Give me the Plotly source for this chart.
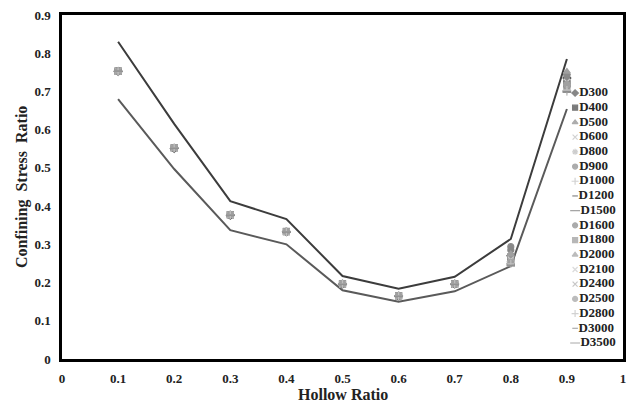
import plotly.graph_objects as go

hollow = [0.1, 0.2, 0.3, 0.4, 0.5, 0.6, 0.7, 0.8, 0.9]
upper_bound = [0.83, 0.615, 0.413, 0.366, 0.217, 0.184, 0.215, 0.314, 0.785]
lower_bound = [0.68, 0.497, 0.337, 0.300, 0.180, 0.150, 0.177, 0.243, 0.654]

series_names = ["D300", "D400", "D500", "D600", "D800", "D900", "D1000", "D1200", "D1500",
                "D1600", "D1800", "D2000", "D2100", "D2400", "D2500", "D2800", "D3000", "D3500"]

D300 = [0.752, 0.551, 0.376, 0.333, 0.196, 0.165, 0.196, 0.270, 0.735]
D400 = [0.753, 0.552, 0.377, 0.333, 0.196, 0.165, 0.196, 0.265, 0.720]
D500 = [0.754, 0.553, 0.378, 0.334, 0.197, 0.166, 0.197, 0.272, 0.748]
D600 = [0.752, 0.552, 0.377, 0.333, 0.196, 0.165, 0.196, 0.262, 0.712]
D800 = [0.753, 0.551, 0.376, 0.332, 0.195, 0.164, 0.195, 0.258, 0.705]
D900 = [0.754, 0.552, 0.377, 0.333, 0.196, 0.165, 0.196, 0.294, 0.742]
D1000 = [0.753, 0.553, 0.378, 0.334, 0.197, 0.166, 0.197, 0.255, 0.700]
D1200 = [0.752, 0.552, 0.377, 0.333, 0.196, 0.165, 0.196, 0.250, 0.698]
D1500 = [0.753, 0.551, 0.376, 0.332, 0.195, 0.164, 0.195, 0.247, 0.702]
D1600 = [0.754, 0.552, 0.377, 0.333, 0.196, 0.165, 0.196, 0.285, 0.730]
D1800 = [0.753, 0.553, 0.378, 0.334, 0.197, 0.166, 0.197, 0.268, 0.715]
D2000 = [0.752, 0.552, 0.377, 0.333, 0.196, 0.165, 0.196, 0.275, 0.752]
D2100 = [0.753, 0.551, 0.376, 0.332, 0.195, 0.164, 0.195, 0.260, 0.725]
D2400 = [0.754, 0.552, 0.377, 0.333, 0.196, 0.165, 0.196, 0.256, 0.708]
D2500 = [0.753, 0.553, 0.378, 0.334, 0.197, 0.166, 0.197, 0.252, 0.718]
D2800 = [0.752, 0.552, 0.377, 0.333, 0.196, 0.165, 0.196, 0.249, 0.703]
D3000 = [0.753, 0.551, 0.376, 0.332, 0.195, 0.164, 0.195, 0.245, 0.700]
D3500 = [0.754, 0.552, 0.377, 0.333, 0.196, 0.165, 0.196, 0.243, 0.698]

series_values = [D300, D400, D500, D600, D800, D900, D1000, D1200, D1500,
                 D1600, D1800, D2000, D2100, D2400, D2500, D2800, D3000, D3500]

x_ticks = [0, 0.1, 0.2, 0.3, 0.4, 0.5, 0.6, 0.7, 0.8, 0.9, 1]
x_tick_labels = ["0", "0.1", "0.2", "0.3", "0.4", "0.5", "0.6", "0.7", "0.8", "0.9", "1"]
y_ticks = [0, 0.1, 0.2, 0.3, 0.4, 0.5, 0.6, 0.7, 0.8, 0.9]
y_tick_labels = ["0", "0.1", "0.2", "0.3", "0.4", "0.5", "0.6", "0.7", "0.8", "0.9"]

symbols = ["diamond", "square", "triangle-up", "x-thin", "asterisk", "circle", "cross-thin",
           "line-ew", "line-ew", "circle", "square", "triangle-up", "x-thin", "x-thin",
           "circle", "cross-thin", "line-ew", "line-ew"]
colors = ["#555555", "#444444", "#8a8a8a", "#c0c0c0", "#b8b8b8", "#8a8a8a", "#c0c0c0",
          "#555555", "#777777", "#888888", "#999999", "#a0a0a0", "#cccccc", "#b0b0b0",
          "#a0a0a0", "#c0c0c0", "#888888", "#999999"]
sizes = [5, 5, 5, 5, 5, 5, 5, 4, 7, 5, 5, 5, 5, 5, 5, 5, 4, 7]

SERIF = "Liberation Serif, Times New Roman, serif"
TXT = "#222222"

fig = go.Figure()
fig.add_trace(go.Scatter(x=hollow, y=upper_bound, mode="lines",
                         line=dict(color="#3c3c3c", width=2), showlegend=False, hoverinfo="skip"))
fig.add_trace(go.Scatter(x=hollow, y=lower_bound, mode="lines",
                         line=dict(color="#5a5a5a", width=2), showlegend=False, hoverinfo="skip"))

for name, vals, sym, col in zip(series_names, series_values, symbols, colors):
    fig.add_trace(go.Scatter(
        x=hollow, y=vals, mode="markers", name=name, showlegend=False,
        marker=dict(symbol=sym, size=6, color=col, line=dict(color=col, width=1.2)),
    ))

# Legend key drawn on its own hidden axis (one row per series)
legend_rows = list(range(len(series_names)))
fig.add_trace(go.Scatter(
    x=[0] * len(series_names), y=legend_rows, mode="markers+text",
    text=["<b>" + n + "</b>" for n in series_names], textposition="middle right",
    textfont=dict(family=SERIF, size=13, color=TXT),
    marker=dict(symbol=symbols, size=sizes, color=colors, line=dict(color=colors, width=1.2)),
    xaxis="x2", yaxis="y2", showlegend=False, cliponaxis=False, hoverinfo="skip",
))

fig.update_layout(
    width=627, height=397,
    margin=dict(l=54, r=12, t=7, b=46),
    paper_bgcolor="white", plot_bgcolor="white",
    font=dict(family=SERIF, color=TXT, size=13),
    showlegend=False,
    xaxis=dict(range=[0, 1], tickvals=x_ticks, ticktext=["<b>" + t + "</b>" for t in x_tick_labels],
               showgrid=False, zeroline=False, showline=True, linecolor="black",
               linewidth=2.5, mirror=True, ticks="", ticklabelstandoff=6, automargin=False,
               ticklabeloverflow="allow",
               tickfont=dict(family=SERIF, size=13, color=TXT)),
    yaxis=dict(range=[0, 0.9], tickvals=y_ticks, ticktext=["<b>" + t + "</b>" for t in y_tick_labels],
               showgrid=False, zeroline=False, showline=True, linecolor="black",
               linewidth=2.5, mirror=True, ticks="", ticklabelstandoff=6, automargin=False,
               ticklabeloverflow="allow",
               tickfont=dict(family=SERIF, size=13, color=TXT)),
    xaxis2=dict(domain=[0.9146, 1.0], range=[0, 1], visible=False, anchor="y2", automargin=False),
    yaxis2=dict(domain=[0.0251, 0.7946], range=[17.5, -0.5], visible=False, anchor="x2", automargin=False),
    annotations=[
        dict(text="<b>Hollow Ratio</b>", xref="paper", yref="paper", x=0.5, y=-0.102,
             xanchor="center", yanchor="middle", showarrow=False,
             font=dict(family=SERIF, size=16, color=TXT)),
        dict(text="<b>Confining  Stress  Ratio</b>", xref="paper", yref="paper", x=-0.0712, y=0.5,
             xanchor="center", yanchor="middle", textangle=-90, showarrow=False,
             font=dict(family=SERIF, size=16, color=TXT)),
    ],
)

fig.write_html("out.html")
